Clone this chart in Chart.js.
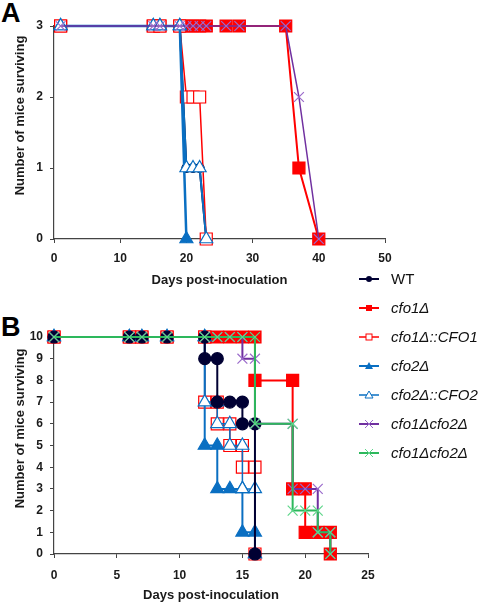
<!DOCTYPE html>
<html>
<head>
<meta charset="utf-8">
<script src="https://cdn.jsdelivr.net/npm/chart.js@4.4.0/dist/chart.umd.min.js"></script>
<style>
  body { margin:0; background:#fff; width:480px; height:604px; position:relative; overflow:hidden; font-family:"Liberation Sans", Arial, sans-serif; }
  .box { position:absolute; left:0; width:400px; }
  .panel { position:absolute; left:1px; font-weight:bold; font-size:27px; line-height:27px; }
  #legend { position:absolute; left:357px; top:264px; }
  .item { height:29px; display:flex; align-items:center; font-size:15px; font-style:italic; white-space:nowrap; color:#111; }
  .item svg { margin-right:10px; }
</style>
</head>
<body>
<div class="panel" style="top:0px">A</div>
<div class="panel" style="top:314px">B</div>
<div class="box" style="top:0px;height:300px"><canvas id="chartA"></canvas></div>
<div class="box" style="top:300px;height:304px"><canvas id="chartB"></canvas></div>
<div id="legend">
  <div class="item" style="font-style:normal"><svg width="24" height="14"><line x1="2" y1="7" x2="22" y2="7" stroke="#000033" stroke-width="2"/><circle cx="12" cy="7" r="3" fill="#000033"/></svg>WT</div>
  <div class="item"><svg width="24" height="14"><line x1="2" y1="7" x2="22" y2="7" stroke="#ff0000" stroke-width="2"/><rect x="9" y="4" width="6" height="6" fill="#ff0000"/></svg>cfo1Δ</div>
  <div class="item"><svg width="24" height="14"><line x1="2" y1="7" x2="22" y2="7" stroke="#ff0000" stroke-width="1.5"/><rect x="9" y="4" width="6" height="6" fill="#fff" stroke="#ff0000" stroke-width="1"/></svg>cfo1Δ::CFO1</div>
  <div class="item"><svg width="24" height="14"><line x1="2" y1="7" x2="22" y2="7" stroke="#0a6fc2" stroke-width="2"/><polygon points="12,3 16,10 8,10" fill="#0a6fc2"/></svg>cfo2Δ</div>
  <div class="item"><svg width="24" height="14"><line x1="2" y1="7" x2="22" y2="7" stroke="#0a6fc2" stroke-width="1.5"/><polygon points="12,3 16,10 8,10" fill="#fff" stroke="#0a6fc2" stroke-width="1"/></svg>cfo2Δ::CFO2</div>
  <div class="item"><svg width="24" height="14"><line x1="2" y1="7" x2="22" y2="7" stroke="#7030a0" stroke-width="2"/><path d="M8 3 L16 11 M16 3 L8 11" stroke="#9b6bcb" stroke-width="1"/></svg>cfo1Δcfo2Δ</div>
  <div class="item"><svg width="24" height="14"><line x1="2" y1="7" x2="22" y2="7" stroke="#2db85c" stroke-width="2"/><path d="M8 3 L16 11 M16 3 L8 11" stroke="#5fd68a" stroke-width="1"/></svg>cfo1Δcfo2Δ</div>
</div>
<script>
// panel A: days post-inoculation / mice surviving (3 per group)
var aWtDays = [1, 15, 16, 19, 20, 21, 22, 23];
var aWtMice = [3, 3, 3, 3, 1, 1, 1, 0];
var aCfo1Days = [1, 15, 16, 19, 20, 21, 22, 23, 26, 28, 35, 37, 40];
var aCfo1Mice = [3, 3, 3, 3, 3, 3, 3, 3, 3, 3, 3, 1, 0];
var aCfo1RecDays = [1, 15, 16, 19, 20, 21, 22, 23];
var aCfo1RecMice = [3, 3, 3, 3, 2, 2, 2, 0];
var aCfo2Days = [1, 15, 16, 19, 20];
var aCfo2Mice = [3, 3, 3, 3, 0];
var aCfo2RecDays = [1, 15, 16, 19, 20, 21, 22, 23];
var aCfo2RecMice = [3, 3, 3, 3, 1, 1, 1, 0];
var aDoubleDays = [1, 15, 16, 19, 20, 21, 22, 23, 26, 28, 35, 37, 40];
var aDoubleMice = [3, 3, 3, 3, 3, 3, 3, 3, 3, 3, 3, 2, 0];

// panel B: 10 mice per group
var bWtDays = [0, 6, 7, 9, 12, 12, 13, 13, 14, 15, 15, 16, 16];
var bWtMice = [10, 10, 10, 10, 10, 9, 9, 7, 7, 7, 6, 6, 0];
var bCfo1Days = [0, 6, 7, 9, 12, 13, 14, 15, 16, 16, 19, 19, 20, 20, 21, 22, 22];
var bCfo1Mice = [10, 10, 10, 10, 10, 10, 10, 10, 10, 8, 8, 3, 3, 1, 1, 1, 0];
var bCfo1RecDays = [0, 6, 7, 9, 12, 12, 13, 13, 14, 14, 15, 15, 16, 16];
var bCfo1RecMice = [10, 10, 10, 10, 10, 7, 7, 6, 6, 5, 5, 4, 4, 0];
var bCfo2Days = [0, 6, 7, 9, 12, 12, 13, 13, 14, 15, 15, 16, 16];
var bCfo2Mice = [10, 10, 10, 10, 10, 5, 5, 3, 3, 3, 1, 1, 0];
var bCfo2RecDays = [0, 6, 7, 9, 12, 12, 13, 13, 14, 14, 15, 15, 16, 16];
var bCfo2RecMice = [10, 10, 10, 10, 10, 7, 7, 6, 6, 5, 5, 3, 3, 0];
var bDoubleDays = [0, 6, 7, 9, 12, 13, 14, 15, 15, 16, 16, 19, 19, 20, 21, 21, 22, 22];
var bDoubleMice = [10, 10, 10, 10, 10, 10, 10, 10, 9, 9, 6, 6, 3, 3, 3, 1, 1, 0];
var bDouble2Days = [0, 6, 7, 9, 12, 13, 14, 15, 16, 16, 19, 19, 20, 21, 21, 22, 22];
var bDouble2Mice = [10, 10, 10, 10, 10, 10, 10, 10, 10, 6, 6, 2, 2, 2, 1, 1, 0];

var aXTicks = [0, 10, 20, 30, 40, 50];
var bXTicks = [0, 5, 10, 15, 20, 25];

Chart.defaults.font.family = '"Liberation Sans", Arial, sans-serif';
Chart.defaults.color = '#1a1a1a';

var RED = '#ff0000', BLUE = '#0a6fc2', NAVY = '#000033';
var PURPLE = '#7030a0', PURPLE_PT = '#9b6bcb', GREEN = '#2db85c', GREEN_PT = '#5fd68a';

function pts(days, mice) {
	var out = [];
	for (var i = 0; i < days.length; i++) out.push({x: days[i], y: mice[i]});
	return out;
}

function series(label, days, mice, line, lw, shape, fill, edge, r, order) {
	return {
		label: label,
		data: pts(days, mice),
		showLine: true,
		borderColor: line,
		borderWidth: lw,
		pointStyle: shape,
		pointBackgroundColor: fill,
		pointBorderColor: edge,
		pointBorderWidth: 1.2,
		pointRadius: r,
		pointHoverRadius: r,
		clip: false,
		order: order
	};
}

// the y title sits a bit above the middle of the axis in the original, so draw it by hand
var yTitle = {
	id: 'yTitle',
	afterDraw: function(chart) {
		var t = chart.options.scales.y.title;
		var area = chart.chartArea;
		var ctx = chart.ctx;
		ctx.save();
		ctx.translate(20, (area.top + area.bottom) / 2 - 17);
		ctx.rotate(-Math.PI / 2);
		ctx.font = 'bold 13px "Liberation Sans", Arial, sans-serif';
		ctx.fillStyle = '#1a1a1a';
		ctx.textAlign = 'center';
		ctx.textBaseline = 'middle';
		ctx.fillText(t.text, 0, 0);
		ctx.restore();
	}
};

function scales(xMax, xTicks, yMax, xPad) {
	return {
		x: {
			type: 'linear', min: 0, max: xMax,
			afterBuildTicks: function(s) { s.ticks = xTicks.map(function(v) { return {value: v}; }); },
			grid: {drawOnChartArea: false, drawTicks: true, tickLength: 4, color: '#444'},
			border: {display: true, color: '#444', width: 1.2},
			ticks: {padding: xPad, font: {size: 12, weight: 'bold'}, maxRotation: 0},
			title: {display: true, text: 'Days post-inoculation', font: {size: 13, weight: 'bold'}, padding: {top: 0, bottom: 1}},
			afterFit: function(s) { s.height = 50; }
		},
		y: {
			min: 0, max: yMax,
			grid: {drawOnChartArea: false, drawTicks: true, tickLength: 4, color: '#444'},
			border: {display: true, color: '#444', width: 1.2},
			ticks: {stepSize: 1, autoSkip: false, padding: 7, font: {size: 12, weight: 'bold'}},
			title: {display: false, text: 'Number of mice surviving'},
			afterFit: function(s) { s.width = 54; }
		}
	};
}

var commonPlugins = {legend: {display: false}, tooltip: {enabled: false}};

new Chart(document.getElementById('chartA'), {
	type: 'scatter',
	data: {
		datasets: [
			series('WT', aWtDays, aWtMice, NAVY, 2, 'circle', NAVY, NAVY, 4.5, 4),
			series('cfo1Δ', aCfo1Days, aCfo1Mice, RED, 2, 'rect', RED, RED, 8.5, 5),
			series('cfo1Δ::CFO1', aCfo1RecDays, aCfo1RecMice, RED, 1.5, 'rect', '#fff', RED, 8.5, 3),
			series('cfo2Δ', aCfo2Days, aCfo2Mice, BLUE, 2.5, 'triangle', BLUE, BLUE, 7.5, 2),
			series('cfo2Δ::CFO2', aCfo2RecDays, aCfo2RecMice, BLUE, 2, 'triangle', '#fff', BLUE, 7.5, 1),
			series('cfo1Δcfo2Δ', aDoubleDays, aDoubleMice, PURPLE, 1.5, 'crossRot', PURPLE_PT, PURPLE_PT, 7, 0)
		]
	},
	options: {
		responsive: true, maintainAspectRatio: false, animation: false,
		layout: {padding: {left: 0, right: 15, top: 26, bottom: 11}},
		scales: scales(50, aXTicks, 3, 8),
		plugins: commonPlugins
	},
	plugins: [yTitle]
});

new Chart(document.getElementById('chartB'), {
	type: 'scatter',
	data: {
		datasets: [
			series('WT', bWtDays, bWtMice, NAVY, 2, 'circle', NAVY, NAVY, 6, 2),
			series('cfo1Δ', bCfo1Days, bCfo1Mice, RED, 2, 'rect', RED, RED, 8.5, 6),
			series('cfo1Δ::CFO1', bCfo1RecDays, bCfo1RecMice, RED, 1.5, 'rect', '#fff', RED, 8.5, 5),
			series('cfo2Δ', bCfo2Days, bCfo2Mice, BLUE, 2, 'triangle', BLUE, BLUE, 7.5, 4),
			series('cfo2Δ::CFO2', bCfo2RecDays, bCfo2RecMice, BLUE, 1.5, 'triangle', '#fff', BLUE, 7.5, 3),
			series('cfo1Δcfo2Δ', bDoubleDays, bDoubleMice, PURPLE, 2, 'crossRot', PURPLE_PT, PURPLE_PT, 7, 1),
			series('cfo1Δcfo2Δ', bDouble2Days, bDouble2Mice, GREEN, 2, 'crossRot', GREEN_PT, GREEN_PT, 7, 0)
		]
	},
	options: {
		responsive: true, maintainAspectRatio: false, animation: false,
		layout: {padding: {left: 0, right: 32, top: 37, bottom: 0}},
		scales: scales(25, bXTicks, 10, 10),
		plugins: commonPlugins
	},
	plugins: [yTitle]
});
</script>
</body>
</html>
